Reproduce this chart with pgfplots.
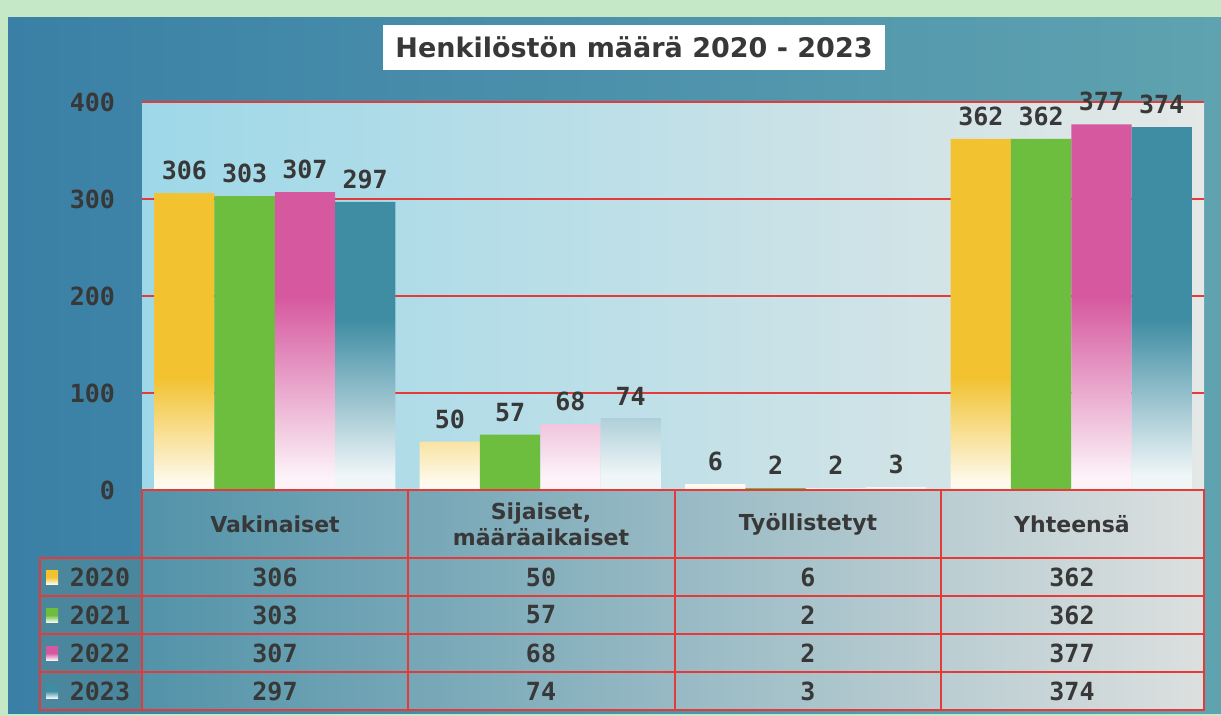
\documentclass[border=0pt]{standalone}
\usepackage{fontspec}
\setmainfont{DejaVu Sans}
\newfontfamily\numfont{DejaVu Sans Mono}
\usepackage{pgfplots}
\pgfplotsset{compat=1.18}

\definecolor{cY}{HTML}{F2C230}
\definecolor{cG}{HTML}{6DBE3E}
\definecolor{cP}{HTML}{D6589F}
\definecolor{cT}{HTML}{3F8DA3}
\definecolor{gridred}{HTML}{E63A38}
\definecolor{mint}{HTML}{C5E8C6}
\definecolor{panelL}{HTML}{3A80A6}
\definecolor{panelR}{HTML}{5FA3B0}
\definecolor{plotL}{HTML}{9ED8E8}
\definecolor{plotR}{HTML}{E4E8E7}
\definecolor{cellL}{HTML}{5293A9}
\definecolor{cellR}{HTML}{DCE0DF}
\definecolor{txt}{HTML}{383838}

% bars fade to white towards the bottom
\pgfdeclareverticalshading{fadeY}{100bp}{color(0bp)=(cY!8!white); color(26bp)=(cY!8!white); color(41bp)=(cY); color(100bp)=(cY)}
\pgfdeclareverticalshading{fadeP}{100bp}{color(0bp)=(cP!8!white); color(27bp)=(cP!8!white); color(51.5bp)=(cP); color(100bp)=(cP)}
\pgfdeclareverticalshading{fadeT}{100bp}{color(0bp)=(cT!8!white); color(27bp)=(cT!8!white); color(48.5bp)=(cT); color(100bp)=(cT)}

\newcommand{\numf}{\numfont\bfseries\fontsize{12.5}{14}\selectfont}
\newcommand{\headf}{\bfseries\fontsize{11}{13}\selectfont}

\begin{document}
\begin{tikzpicture}
\begin{scope}[x=0.5pt,y=-0.5pt]
  \fill[mint] (0,0) rectangle (1221,716);
  \path[use as bounding box] (0,0) rectangle (1221,716);
  \shade[left color=panelL, right color=panelR] (8,18) rectangle (1221,713);
  \node[fill=white, minimum width=251pt, minimum height=22.5pt, inner sep=0pt,
        font=\bfseries\fontsize{13.5}{16}\selectfont, text=txt] at (634,47.5)
        {Henkilöstön määrä 2020 - 2023};
\end{scope}

\begin{axis}[
  at={(71pt,-245pt)}, anchor=south west,
  scale only axis, width=531pt, height=194pt,
  xmin=-0.5, xmax=3.5, ymin=0, ymax=400,
  ybar=0pt, bar width=0.227,
  xtick=\empty, ytick={0,100,200,300,400},
  /pgf/number format/assume math mode=true,
  ymajorgrids, grid style={gridred, line width=1.1pt},
  axis line style={draw=none}, major tick length=0pt,
  yticklabel style={font=\numf, text=txt, xshift=-10pt},
  nodes near coords,
  every node near coord/.append style={font=\numf, text=txt, yshift=3pt},
  axis background/.style={shade, left color=plotL, right color=plotR},
  clip=false,
]
\addplot[draw=none, shade, shading=fadeY] coordinates {(0,306) (1,50) (2,6) (3,362)};
\addplot[draw=none, fill=cG] coordinates {(0,303) (1,57) (2,2) (3,362)};
\addplot[draw=none, shade, shading=fadeP] coordinates {(0,307) (1,68) (2,2) (3,377)};
\addplot[draw=none, shade, shading=fadeT] coordinates {(0,297) (1,74) (2,3) (3,374)};
\end{axis}

\begin{scope}[x=0.5pt,y=-0.5pt]
  % table cells
  \shade[left color=cellL, right color=cellR] (142,490) rectangle (1204,710);
  \fill[cellL!92!black] (40,558) rectangle (142,710);
  \begin{scope}[gridred, line width=1.1pt]
    \draw (142,490) -- (1204,490) -- (1204,710) -- (40,710) -- (40,558) -- (1204,558);
    \foreach \y in {596,634,672} \draw (40,\y) -- (1204,\y);
    \foreach \x in {142,408,675,941} \draw (\x,490) -- (\x,710);
  \end{scope}
  % header
  \node[font=\headf, text=txt] at (275,524) {Vakinaiset};
  \node[font=\headf, text=txt, align=center] at (541,524) {Sijaiset,\\määräaikaiset};
  \node[font=\headf, text=txt] at (808,524) {Työllistetyt};
  \node[font=\headf, text=txt] at (1072,524) {Yhteensä};
  % legend column
  \foreach \c/\yy/\lab in {cY/577/2020, cG/615/2021, cP/653/2022, cT/691/2023}{
    \shade[top color=\c, bottom color=\c!10!white, middle color=\c] (46,\yy-7) rectangle (58,\yy+7);
    \node[font=\numf, text=txt] at (100,\yy) {\lab};
  }
  % values
  \foreach \yy/\a/\b/\cc/\d in {577/306/50/6/362, 615/303/57/2/362, 653/307/68/2/377, 691/297/74/3/374}{
    \node[font=\numf, text=txt] at (275,\yy) {\a};
    \node[font=\numf, text=txt] at (541,\yy) {\b};
    \node[font=\numf, text=txt] at (808,\yy) {\cc};
    \node[font=\numf, text=txt] at (1072,\yy) {\d};
  }
\end{scope}
\end{tikzpicture}
\end{document}
